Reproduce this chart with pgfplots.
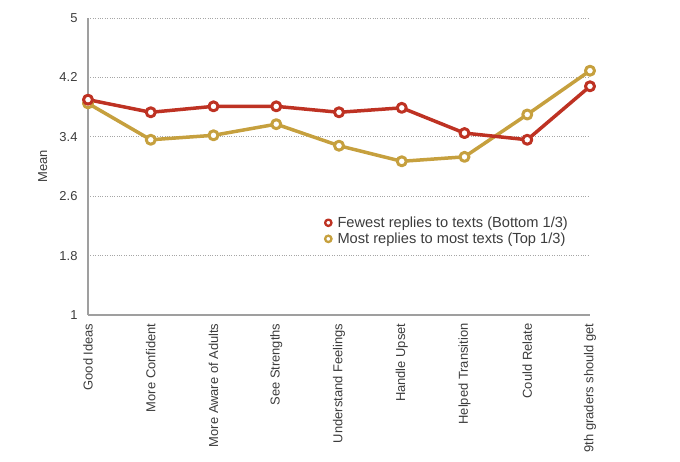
\documentclass[border=0pt]{standalone}
\usepackage{pgfplots}
\pgfplotsset{compat=1.18}
\usepackage{fontspec}
\setmainfont{Liberation Sans}
\definecolor{redS}{RGB}{190,50,35}
\definecolor{goldS}{RGB}{198,160,62}
\definecolor{txt}{RGB}{60,60,60}
\begin{document}
\begin{tikzpicture}
\begin{axis}[name=ax, scale only axis, width=502bp, height=297bp,
 xmin=0, xmax=8, ymin=1, ymax=5,
 ytick={1,1.8,2.6,3.4,4.2,5},
 /pgf/number format/assume math mode=true,
 yticklabel style={/pgf/number format/fixed, /pgf/number format/precision=1,
   font=\fontsize{13}{15}\selectfont, text=txt, xshift=-7bp},
 xtick={0,...,8},
 xticklabels={Good Ideas, More Confident, More Aware of Adults, See Strengths, Understand Feelings, Handle Upset, Helped Transition, Could Relate, 9th graders should get},
 xticklabel style={rotate=90, anchor=east, font=\fontsize{13}{15}\selectfont, text=txt, yshift=0bp, xshift=-5bp},
 axis x line*=bottom, axis y line*=left,
 axis line style={gray!75, line width=1.3bp},
 major tick length=0,
 ymajorgrids, grid style={dotted, gray!70, line width=0.7bp},
 ylabel=Mean,
 ylabel style={at={(axis description cs:-0.09,0.5)}, anchor=center, font=\fontsize{13}{15}\selectfont, text=txt},
 legend style={at={(axis description cs:0.466,0.345)}, anchor=north west, draw=none, fill=none,
   font=\fontsize{14.7}{17}\selectfont, text=txt, row sep=0bp,
   nodes={inner xsep=6bp}},
 legend cell align=left,
 legend image code/.code={\draw[#1, only marks, mark size=3.2bp, every mark/.append style={line width=2.3bp, fill=white}] plot coordinates {(0.15cm,0cm)};},
 clip=false,
]
\addplot[goldS, line width=3.5bp, line join=round, mark=*, mark size=4.5bp,
  mark options={fill=white, draw=goldS, line width=3bp}, forget plot] coordinates {
 (0,3.85) (1,3.36) (2,3.42) (3,3.57) (4,3.28) (5,3.07) (6,3.13) (7,3.70) (8,4.29)};
\addplot[redS, line width=3.5bp, line join=round, mark=*, mark size=4.5bp,
  mark options={fill=white, draw=redS, line width=3bp}] coordinates {
 (0,3.90) (1,3.73) (2,3.81) (3,3.81) (4,3.73) (5,3.79) (6,3.45) (7,3.36) (8,4.08)};
\addlegendentry{Fewest replies to texts (Bottom 1/3)}
\addlegendimage{goldS, mark=*, mark options={fill=white, draw=goldS}}
\addlegendentry{Most replies to most texts (Top 1/3)}
\end{axis}
\path ([xshift=-88bp,yshift=-147bp]ax.south west) rectangle ([xshift=90bp,yshift=18bp]ax.north east);
\end{tikzpicture}
\end{document}
